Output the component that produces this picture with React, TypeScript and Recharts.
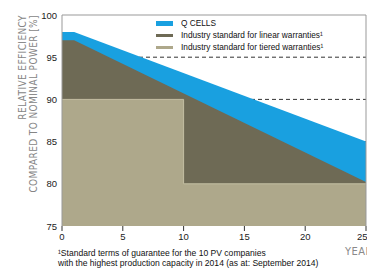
import React from 'react';
import {
    ComposedChart,
    Area,
    XAxis,
    YAxis,
    CartesianGrid,
    ReferenceLine
} from 'recharts';

const years = [0, 1, 10, 25];
const qCells = [98, 98, null, 85];
const linearStd = [97, 97, null, 80.2];
const tieredStd = [90, null, 80, 80];

const xTicks = [0, 5, 10, 15, 20, 25];
const yTicks = [75, 80, 85, 90, 95, 98, 100];
const gridValues = [80, 85, 90, 95];

const seriesNames = [
    'Q CELLS',
    'Industry standard for linear warranties¹',
    'Industry standard for tiered warranties¹'
];
const footnote = [
    '¹Standard terms of guarantee for the 10 PV companies',
    'with the highest production capacity in 2014 (as at: September 2014)'
];

const BLUE = '#19a0e0';
const DARK = '#6e6a55';
const KHAKI = '#aea88b';
const SANS = '"Liberation Sans", Arial, sans-serif';

const data = years.map((year, i) => ({
    year,
    qcells: qCells[i],
    linear: linearStd[i],
    tiered: tieredStd[i]
}));

const YTick = ({ x, y, payload }: any) => (
    <text
        x={x}
        y={y}
        dy={3.5}
        textAnchor="end"
        fontSize={9.5}
        fontFamily={SANS}
        fill={payload.value === 98 ? '#22b0c8' : '#222'}
    >
        {payload.value}
    </text>
);

const YLabel = () => (
    <g fill="#858585" fontSize={10} fontFamily="'DejaVu Sans Condensed', 'Liberation Sans', sans-serif" letterSpacing={0.4}>
        <text transform="translate(26,15) rotate(-90)" textAnchor="end">RELATIVE EFFICIENCY</text>
        <text transform="translate(37,15) rotate(-90)" textAnchor="end">COMPARED TO NOMINAL POWER [%]</text>
    </g>
);

const LegendBox = () => {
    const colors = [BLUE, DARK, KHAKI];
    const heights = [5, 3, 3];
    return (
        <div style={{ position: 'absolute', left: 156, top: 17, fontFamily: SANS, fontSize: 9, color: '#111', whiteSpace: 'nowrap' }}>
            {seriesNames.map((name, i) => (
                <div key={name} style={{ display: 'flex', alignItems: 'center', height: 12 }}>
                    <span style={{ display: 'inline-block', width: 17, height: heights[i], background: colors[i], marginRight: 8 }} />
                    <span style={{ display: 'inline-block', transform: 'scaleX(0.92)', transformOrigin: 'left center' }}>{name}</span>
                </div>
            ))}
        </div>
    );
};

export default function App() {
    return (
        <div style={{ position: 'absolute', left: 0, top: 0, width: 367, height: 274, background: '#fff', overflow: 'hidden' }}>
            <ComposedChart width={367} height={274} data={data} margin={{ top: 15, right: 1, bottom: 30, left: 0 }}>
                <CartesianGrid
                    horizontal
                    vertical={false}
                    horizontalValues={gridValues}
                    stroke="#333"
                    strokeDasharray="4 3"
                />
                <XAxis
                    dataKey="year"
                    type="number"
                    domain={[0, 25]}
                    ticks={xTicks}
                    height={18}
                    axisLine={false}
                    tickLine={{ stroke: '#333' }}
                    tickSize={5}
                    tick={{ fontSize: 9.5, fontFamily: SANS, fill: '#222' }}
                />
                <YAxis
                    type="number"
                    domain={[75, 100]}
                    ticks={yTicks}
                    width={62}
                    axisLine={{ stroke: '#999' }}
                    tickLine={false}
                    tickSize={0}
                    tickMargin={5}
                    tick={<YTick />}
                    label={<YLabel />}
                />
                <Area
                    dataKey="qcells"
                    name={seriesNames[0]}
                    type="linear"
                    connectNulls
                    fill={BLUE}
                    fillOpacity={1}
                    stroke="none"
                    isAnimationActive={false}
                />
                <Area
                    dataKey="linear"
                    name={seriesNames[1]}
                    type="linear"
                    connectNulls
                    fill={DARK}
                    fillOpacity={1}
                    stroke="none"
                    isAnimationActive={false}
                />
                <Area
                    dataKey="tiered"
                    name={seriesNames[2]}
                    type="stepAfter"
                    connectNulls
                    fill={KHAKI}
                    fillOpacity={1}
                    stroke="#c4bfa3"
                    strokeWidth={1}
                    isAnimationActive={false}
                />
                <ReferenceLine y={100} stroke="#999" />
                <ReferenceLine x={25} stroke="#999" />
            </ComposedChart>
            <LegendBox />
            <div style={{ position: 'absolute', left: 58, top: 248, fontFamily: SANS, fontSize: 9, lineHeight: '10px', color: '#111', whiteSpace: 'nowrap', transform: 'scaleX(0.95)', transformOrigin: 'left top' }}>
                {footnote.map(line => <div key={line}>{line}</div>)}
            </div>
            <div style={{ position: 'absolute', left: 345, top: 245, fontFamily: "'DejaVu Sans Condensed', sans-serif", fontSize: 11, letterSpacing: 0.5, color: '#8a8a8a', whiteSpace: 'nowrap' }}>
                YEARS
            </div>
        </div>
    );
}
